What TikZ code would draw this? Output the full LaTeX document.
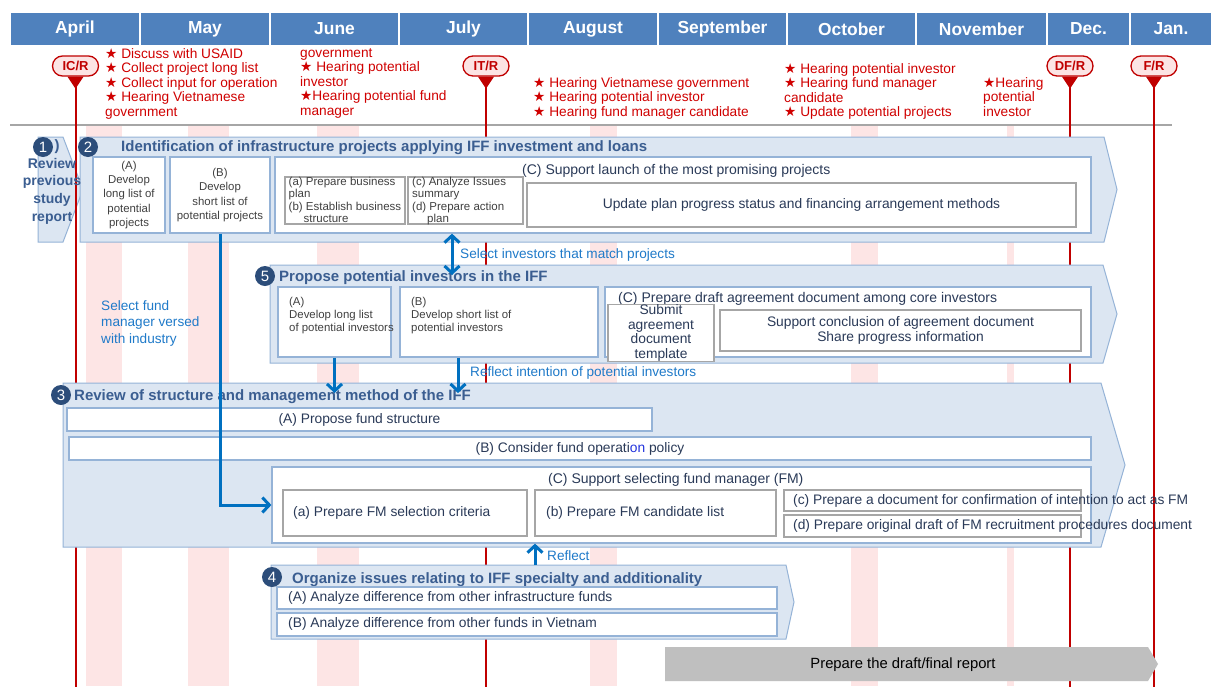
\documentclass[tikz,border=0pt]{standalone}
\usepackage{fontspec}
\setmainfont{Liberation Sans}
\newfontfamily\symfont{DejaVu Sans}
\usetikzlibrary{arrows.meta,calc}
\definecolor{monthblue}{HTML}{4F81BD}
\definecolor{chevfill}{HTML}{DCE6F2}
\definecolor{chevline}{HTML}{95B3D7}
\definecolor{titleblue}{HTML}{3B5E91}
\definecolor{numblue}{HTML}{2C4D7A}
\definecolor{arrowblue}{HTML}{0070C0}
\definecolor{textblue}{HTML}{1F7AC9}
\definecolor{mred}{HTML}{C00000}
\definecolor{tred}{HTML}{D00000}
\definecolor{pillfill}{HTML}{FCE4E4}
\definecolor{stripe}{HTML}{FDE5E5}
\definecolor{sepgrey}{HTML}{A6A6A6}
\definecolor{boxgrey}{HTML}{A6A6A6}
\definecolor{navytext}{HTML}{2A3A58}
\definecolor{greytext}{HTML}{404040}
\definecolor{reportgrey}{HTML}{BFBFBF}
\definecolor{onblue}{HTML}{2233DD}
\newcommand\fs[2]{\fontsize{#1}{#2}\selectfont}
\newcommand\mystar{{\symfont\char"2605}}
\newcommand\bx[7][]{\node[#1, minimum width={(#5-#3)*1pt}, minimum height={(#6-#4)*1pt}] (#2) at ({(#3+#5)/2},{(#4+#6)/2}) {#7};}
\newcommand\chev[6]{\draw[#1] (#2,#3) -- (#4,#3) -- (#5,{(#3+#6)/2}) -- (#4,#6) -- (#2,#6) -- cycle;}
\tikzset{
 month/.style={fill=monthblue, draw=white, line width=1.2pt, text=white, font=\bfseries\fs{17.4}{17.4}, inner sep=0},
 chevbox/.style={fill=chevfill, draw=chevline, line width=1pt},
 wbox/.style={draw=chevline, fill=white, line width=1.2pt, inner sep=0},
 gbox/.style={draw=boxgrey, fill=white, line width=1.2pt, inner sep=0},
 numc/.style={circle, fill=numblue, text=white, minimum size=20pt, inner sep=0, font=\fs{15}{15}},
 ttl/.style={text=titleblue, font=\bfseries\fs{15}{15}, inner sep=0, anchor=west},
 smalltxt/.style={text=greytext, font=\fs{11.4}{14.25}, align=center},
 tinytxt/.style={text=greytext, font=\fs{11.5}{12.6}, align=left, inner sep=0, anchor=north west},
 midtxt/.style={text=navytext, font=\fs{13.8}{14.5}, inner sep=0},
 lbltxt/.style={text=navytext, font=\fs{14}{14}, inner sep=0, anchor=west},
 bluetxt/.style={text=textblue, font=\fs{13.6}{16.5}, inner sep=0, anchor=west},
 redtxt/.style={text=tred, font=\fs{13.7}{14.5}, align=left, inner sep=0, anchor=north west},
 pill/.style={rectangle, rounded corners=10pt, draw=mred, fill=pillfill, line width=1.3pt, text=mred, font=\bfseries\fs{13}{13}, minimum width=46pt, minimum height=20pt, inner sep=0},
 redline/.style={draw=mred, line width=2pt},
 barrow/.style={draw=arrowblue, line width=3pt, -{Straight Barb[length=7pt,width=15pt]}},
}
\begin{document}
\begin{tikzpicture}[x=1pt,y=-1pt]
\useasboundingbox (0,0) rectangle (1211,686);
\fill[white] (0,0) rectangle (1211,686);
% pink stripes
\foreach \a/\b in {86/122,188/229,317/359,590/617,851/878,1007/1014}
  \fill[stripe] (\a,126) rectangle (\b,686);
% month header
\bx[month]{mApr}{10}{12}{140}{46}{April}
\bx[month]{mMay}{140}{12}{270}{46}{May}
\bx[month]{mJun}{270}{12}{399}{46}{June}
\bx[month]{mJul}{399}{12}{528}{46}{July}
\bx[month]{mAug}{528}{12}{658}{46}{August}
\bx[month]{mSep}{658}{12}{787}{46}{September}
\bx[month]{mOct}{787}{12}{916}{46}{October}
\bx[month]{mNov}{916}{12}{1047}{46}{November}
\bx[month]{mDec}{1047}{12}{1130}{46}{Dec.}
\bx[month]{mJan}{1130}{12}{1212}{46}{Jan.}
% separator
\draw[sepgrey, line width=1.5pt] (10,125) -- (1172,125);
% box 1
\chev{chevbox}{38}{137}{63}{83}{242}
% milestones
\coordinate (bot) at (0,687);
\node[pill] (icr) at (75.5,66) {IC/R};
\node[pill] (itr) at (486,66) {IT/R};
\node[pill] (dfr) at (1070,66) {DF/R};
\node[pill] (fr) at (1154,66) {F/R};
\foreach \p in {icr,itr,dfr,fr}{
  \draw[redline] (\p.south) -- (\p.south |- bot);
  \fill[mred] ([xshift=-8pt]\p.south) -- ([xshift=8pt]\p.south) -- ([yshift=-12pt]\p.south) -- cycle;
}
% box 2
\chev{chevbox}{80}{137}{1104}{1117}{242}
\node[numc] (n2) at (88,147) {2};
\node[ttl] (t2) at (121,148) {Identification of infrastructure projects applying IFF investment and loans};
\bx[wbox,smalltxt]{b2A}{93}{157}{165}{233}{(A)\\Develop\\long list of\\potential\\projects}
\bx[wbox,smalltxt]{b2B}{170}{157}{270}{233}{(B)\\Develop\\short list of\\potential projects}
\bx[wbox]{b2C}{275}{157}{1091}{233}{}
\node[lbltxt] (l2C) at (522,171) {(C) Support launch of the most promising projects};
\bx[gbox]{b2Cab}{285}{177}{405}{224}{}
\node[tinytxt] (t2Cab) at (288.5,176.5) {(a) Prepare business\\plan\\(b) Establish business\\\hspace*{15pt}structure};
\bx[gbox]{b2Ccd}{408}{177}{523}{224}{}
\node[tinytxt] (t2Ccd) at (412,176.5) {(c) Analyze Issues\\summary\\(d) Prepare action\\\hspace*{15pt}plan};
\bx[gbox,midtxt]{b2Cu}{527}{183}{1076}{227}{Update plan progress status and financing arrangement methods}
% box 5
\chev{chevbox}{270}{265}{1103}{1117}{363}
\node[numc] (n5) at (265,276) {5};
\node[ttl] (t5) at (279,278) {Propose potential investors in the IFF};
\bx[wbox]{b5A}{278}{287}{391}{357}{}
\node[tinytxt, font=\fs{11.4}{13}] (t5A) at (289,297.5) {(A)\\Develop long list\\of potential investors};
\bx[wbox]{b5B}{400}{287}{598}{357}{}
\node[tinytxt, font=\fs{11.4}{13}] (t5B) at (411,297.5) {(B)\\Develop short list of\\potential investors};
\bx[wbox]{b5C}{605}{287}{1091}{357}{}
\node[lbltxt] (l5C) at (618,299) {(C) Prepare draft agreement document among core investors};
\bx[gbox,midtxt,align=center]{b5Cs}{608}{309}{714}{357}{Submit\\agreement\\document\\template}
\bx[gbox,midtxt,align=center]{b5Cc}{720}{310}{1081}{351}{Support conclusion of agreement document\\Share progress information}
% box 3
\chev{chevbox}{63}{383}{1101}{1125}{547}
\node[numc] (n3) at (61,395) {3};
\node[ttl] (t3) at (74,397) {Review of structure and management method of the IFF};
\bx[wbox,midtxt]{b3A}{67}{408}{652}{431}{(A) Propose fund structure}
\bx[wbox,midtxt]{b3B}{69}{437}{1091}{460}{(B) Consider fund operati\textcolor{onblue}{on} policy}
\bx[wbox]{b3C}{272}{467}{1091}{543}{}
\node[lbltxt] (l3C) at (548,480) {(C) Support selecting fund manager (FM)};
\bx[gbox]{b3a}{283}{490}{527}{536}{}
\node[midtxt, anchor=west] (t3a) at (293,513) {(a) Prepare FM selection criteria};
\bx[gbox]{b3b}{535}{490}{776}{536}{}
\node[midtxt, anchor=west] (t3b) at (546,513) {(b) Prepare FM candidate list};
\bx[gbox]{b3c}{784}{490}{1081}{511}{}
\bx[gbox]{b3d}{784}{515}{1081}{537}{}
% box 4
\chev{chevbox}{271}{565}{786}{794}{639}
\node[numc] (n4) at (272,577) {4};
\node[ttl] (t4) at (292,580) {Organize issues relating to IFF specialty and additionality};
\bx[wbox]{b4A}{277}{587}{777}{609}{}
\node[midtxt, anchor=west] (t4A) at (288,598) {(A) Analyze difference from other infrastructure funds};
\bx[wbox]{b4B}{277}{613}{777}{636}{}
\node[midtxt, anchor=west] (t4B) at (288,624) {(B) Analyze difference from other funds in Vietnam};
% report arrow
\chev{fill=reportgrey, draw=none}{665}{647}{1148}{1158}{681}
\node[text=black, font=\fs{14.8}{14.8}, inner sep=0] (trep) at (903,664.5) {Prepare the draft/final report};
% overflowing texts
\node[midtxt, anchor=west] (t3c) at (793,501) {(c) Prepare a document for confirmation of intention to act as FM};
\node[midtxt, anchor=west] (t3d) at (793,526) {(d) Prepare original draft of FM recruitment procedures document};
% box 1 text
\node[numc] (n1) at (43,147) {1};
\node[text=titleblue, font=\bfseries\fs{15}{15}, inner sep=0] (p1) at (57,147) {)};
\node[text=titleblue, font=\bfseries\fs{14}{17.7}, align=center, inner sep=0, anchor=north] (t1) at (52,157.8) {Review\\previous\\study\\report};
% blue connectors
\coordinate (sel5) at (452,275);
\draw[barrow, {Straight Barb[length=7pt,width=15pt]}-{Straight Barb[length=7pt,width=15pt]}] (b2C.south -| sel5) -- (sel5);
\node[bluetxt] (tsel) at (460,255) {Select investors that match projects};
\coordinate (r5A) at (334.5,393);
\coordinate (r5B) at (458,393);
\draw[barrow] (b5A.south) -- (r5A);
\draw[barrow] (b5B.south -| r5B) -- (r5B);
\node[bluetxt] (trefl) at (470,373) {Reflect intention of potential investors};
\draw[barrow] (b2B.south) |- (b3C.west);
\node[bluetxt, align=left, anchor=north west] (tfm) at (101,300) {Select fund\\manager versed\\with industry};
\coordinate (rf4) at (535,565);
\draw[barrow] (rf4) -- (b3C.south -| rf4);
\node[bluetxt] (trf) at (547,556) {Reflect};
% red annotations
\node[redtxt] (rApr) at (105,48) {\mystar{} Discuss with USAID\\\mystar{} Collect project long list\\\mystar{} Collect input for operation\\\mystar{} Hearing Vietnamese\\government};
\node[redtxt] (rJun) at (300,48) {government\\\mystar{} Hearing potential\\investor\\\mystar{}Hearing potential fund\\manager};
\node[redtxt] (rAug) at (533,77) {\mystar{} Hearing Vietnamese government\\\mystar{} Hearing potential investor\\\mystar{} Hearing fund manager candidate};
\node[redtxt] (rOct) at (784,63) {\mystar{} Hearing potential investor\\\mystar{} Hearing fund manager\\candidate\\\mystar{} Update potential projects};
\node[redtxt] (rNov) at (983,77) {\mystar{}Hearing\\potential\\investor};
\end{tikzpicture}
\end{document}
